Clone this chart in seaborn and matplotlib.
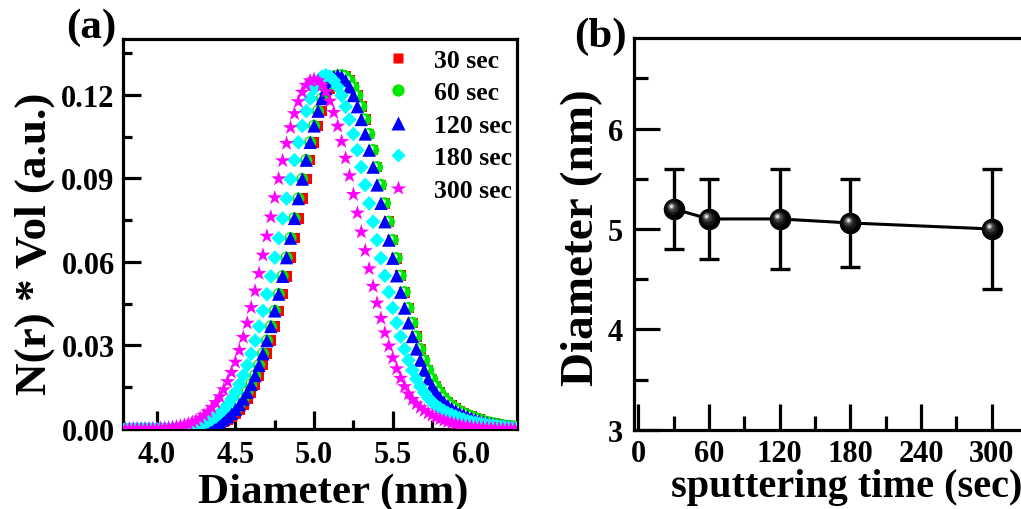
import matplotlib
matplotlib.use("Agg")
import matplotlib.pyplot as plt
import matplotlib.transforms as mtransforms
from matplotlib.ticker import MultipleLocator, FormatStrFormatter
from matplotlib.lines import Line2D
import numpy as np
import pandas as pd
import seaborn as sns

# ---------------- data: panel (a) ----------------
diameter_nm = [
    3.775, 3.8, 3.825, 3.85, 3.875, 3.9, 3.925, 3.95, 3.975, 4.0,
    4.025, 4.05, 4.075, 4.1, 4.125, 4.15, 4.175, 4.2, 4.225, 4.25,
    4.275, 4.3, 4.325, 4.35, 4.375, 4.4, 4.425, 4.45, 4.475, 4.5,
    4.525, 4.55, 4.575, 4.6, 4.625, 4.65, 4.675, 4.7, 4.725, 4.75,
    4.775, 4.8, 4.825, 4.85, 4.875, 4.9, 4.925, 4.95, 4.975, 5.0,
    5.025, 5.05, 5.075, 5.1, 5.125, 5.15, 5.175, 5.2, 5.225, 5.25,
    5.275, 5.3, 5.325, 5.35, 5.375, 5.4, 5.425, 5.45, 5.475, 5.5,
    5.525, 5.55, 5.575, 5.6, 5.625, 5.65, 5.675, 5.7, 5.725, 5.75,
    5.775, 5.8, 5.825, 5.85, 5.875, 5.9, 5.925, 5.95, 5.975, 6.0,
    6.025, 6.05, 6.075, 6.1, 6.125, 6.15, 6.175, 6.2, 6.225, 6.25,
    6.275, 6.3,
]

vol_30s = [
    0, 0, 0, 0, 0, 0, 0, 0, 0, 0,
    0, 0, 0, 0, 0, 0, 0, 0.0001, 0.0002, 0.0003,
    0.0005, 0.0007, 0.0009, 0.0012, 0.0016, 0.0021, 0.0027, 0.0035, 0.0044, 0.0056,
    0.0070, 0.0087, 0.0108, 0.0132, 0.0160, 0.0192, 0.0229, 0.0270, 0.0317, 0.0368,
    0.0424, 0.0484, 0.0548, 0.0615, 0.0685, 0.0756, 0.0827, 0.0897, 0.0965, 0.1029,
    0.1088, 0.1141, 0.1186, 0.1222, 0.1248, 0.1265, 0.1270, 0.1265, 0.1251, 0.1228,
    0.1197, 0.1157, 0.1111, 0.1059, 0.1001, 0.0940, 0.0876, 0.0810, 0.0744, 0.0678,
    0.0613, 0.0550, 0.0491, 0.0434, 0.0381, 0.0332, 0.0287, 0.0247, 0.0211, 0.0180,
    0.0153, 0.0131, 0.0112, 0.0097, 0.0084, 0.0074, 0.0065, 0.0057, 0.0051, 0.0045,
    0.0039, 0.0034, 0.0029, 0.0025, 0.0022, 0.0019, 0.0016, 0.0013, 0.0011, 0.0010,
    0.0008, 0.0007,
]

vol_60s = [
    0, 0, 0, 0, 0, 0, 0, 0, 0, 0,
    0, 0, 0, 0, 0, 0, 0.0001, 0.0002, 0.0003, 0.0005,
    0.0007, 0.0009, 0.0012, 0.0016, 0.0021, 0.0027, 0.0035, 0.0044, 0.0056, 0.0070,
    0.0087, 0.0108, 0.0132, 0.0160, 0.0192, 0.0229, 0.0270, 0.0317, 0.0368, 0.0424,
    0.0484, 0.0548, 0.0615, 0.0685, 0.0756, 0.0827, 0.0897, 0.0965, 0.1029, 0.1088,
    0.1141, 0.1186, 0.1222, 0.1248, 0.1265, 0.1268, 0.1270, 0.1265, 0.1251, 0.1228,
    0.1197, 0.1157, 0.1111, 0.1059, 0.1001, 0.0940, 0.0876, 0.0810, 0.0744, 0.0678,
    0.0613, 0.0550, 0.0491, 0.0434, 0.0381, 0.0332, 0.0287, 0.0247, 0.0211, 0.0180,
    0.0153, 0.0131, 0.0112, 0.0097, 0.0084, 0.0074, 0.0065, 0.0057, 0.0051, 0.0045,
    0.0039, 0.0034, 0.0029, 0.0025, 0.0022, 0.0019, 0.0016, 0.0013, 0.0011, 0.0010,
    0.0008, 0.0007,
]

vol_120s = [
    0, 0, 0, 0, 0, 0, 0, 0, 0, 0,
    0, 0, 0, 0, 0, 0, 0.0001, 0.0002, 0.0003, 0.0005,
    0.0007, 0.0009, 0.0012, 0.0016, 0.0021, 0.0027, 0.0035, 0.0044, 0.0056, 0.0070,
    0.0087, 0.0108, 0.0132, 0.0160, 0.0192, 0.0229, 0.0270, 0.0317, 0.0368, 0.0424,
    0.0484, 0.0548, 0.0615, 0.0685, 0.0756, 0.0827, 0.0897, 0.0965, 0.1029, 0.1088,
    0.1141, 0.1186, 0.1222, 0.1248, 0.1265, 0.1270, 0.1265, 0.1251, 0.1228, 0.1197,
    0.1157, 0.1111, 0.1059, 0.1001, 0.0940, 0.0876, 0.0810, 0.0744, 0.0678, 0.0613,
    0.0550, 0.0491, 0.0434, 0.0381, 0.0332, 0.0287, 0.0247, 0.0211, 0.0180, 0.0153,
    0.0131, 0.0112, 0.0097, 0.0084, 0.0074, 0.0065, 0.0057, 0.0051, 0.0045, 0.0039,
    0.0034, 0.0029, 0.0025, 0.0022, 0.0019, 0.0016, 0.0013, 0.0011, 0.0010, 0.0008,
    0.0007, 0.0005,
]

vol_180s = [
    0, 0, 0, 0, 0, 0, 0, 0, 0, 0,
    0, 0, 0, 0.0001, 0.0002, 0.0003, 0.0005, 0.0007, 0.0009, 0.0012,
    0.0016, 0.0021, 0.0027, 0.0035, 0.0044, 0.0056, 0.0070, 0.0087, 0.0108, 0.0132,
    0.0160, 0.0192, 0.0229, 0.0270, 0.0317, 0.0368, 0.0424, 0.0484, 0.0548, 0.0615,
    0.0685, 0.0756, 0.0827, 0.0897, 0.0965, 0.1029, 0.1088, 0.1141, 0.1186, 0.1222,
    0.1248, 0.1265, 0.1270, 0.1265, 0.1251, 0.1228, 0.1197, 0.1157, 0.1111, 0.1059,
    0.1001, 0.0940, 0.0876, 0.0810, 0.0744, 0.0678, 0.0613, 0.0550, 0.0491, 0.0434,
    0.0381, 0.0332, 0.0287, 0.0247, 0.0211, 0.0180, 0.0153, 0.0131, 0.0112, 0.0097,
    0.0084, 0.0074, 0.0065, 0.0057, 0.0051, 0.0045, 0.0039, 0.0034, 0.0029, 0.0025,
    0.0022, 0.0019, 0.0016, 0.0013, 0.0011, 0.0010, 0.0008, 0.0007, 0.0005, 0.0004,
    0.0004, 0.0003,
]

vol_300s = [
    0, 0, 0, 0, 0, 0, 0, 0, 0, 0.0001,
    0.0002, 0.0003, 0.0004, 0.0006, 0.0008, 0.0011, 0.0014, 0.0018, 0.0024, 0.0030,
    0.0039, 0.0049, 0.0062, 0.0077, 0.0095, 0.0116, 0.0141, 0.0170, 0.0203, 0.0240,
    0.0282, 0.0329, 0.0380, 0.0436, 0.0495, 0.0558, 0.0624, 0.0692, 0.0761, 0.0830,
    0.0898, 0.0963, 0.1025, 0.1082, 0.1132, 0.1175, 0.1209, 0.1234, 0.1250, 0.1255,
    0.1250, 0.1235, 0.1211, 0.1177, 0.1136, 0.1087, 0.1032, 0.0972, 0.0909, 0.0842,
    0.0775, 0.0707, 0.0640, 0.0575, 0.0512, 0.0452, 0.0397, 0.0345, 0.0298, 0.0255,
    0.0216, 0.0182, 0.0152, 0.0126, 0.0106, 0.0090, 0.0077, 0.0066, 0.0057, 0.0049,
    0.0042, 0.0036, 0.0031, 0.0026, 0.0022, 0.0018, 0.0015, 0.0012, 0.0010, 0.0008,
    0.0006, 0.0005, 0.0004, 0.0003, 0.0002, 0.0002, 0.0001, 0, 0, 0,
    0, 0,
]

series_labels = ["30 sec", "60 sec", "120 sec", "180 sec", "300 sec"]

# ---------------- data: panel (b) ----------------
sputter_time = [30, 60, 120, 180, 300]
mean_diameter = [5.2, 5.1, 5.1, 5.06, 5.0]
diameter_low = [4.8, 4.7, 4.6, 4.62, 4.4]
diameter_high = [5.6, 5.5, 5.6, 5.5, 5.6]

# ---------------- style ----------------
sns.set_style("ticks")
plt.rcParams["font.family"] = ["Liberation Serif", "DejaVu Serif"]
plt.rcParams["font.weight"] = "bold"
plt.rcParams["axes.labelweight"] = "bold"
plt.rcParams["axes.linewidth"] = 2.3
plt.rcParams["text.color"] = "black"
plt.rcParams["axes.labelcolor"] = "black"
plt.rcParams["axes.edgecolor"] = "black"
plt.rcParams["xtick.color"] = "black"
plt.rcParams["ytick.color"] = "black"
plt.rcParams["xtick.labelcolor"] = "black"
plt.rcParams["ytick.labelcolor"] = "black"

W, H = 1021, 510
fig = plt.figure(figsize=(W / 100, H / 100), dpi=100)

def fx(px):
    return px / W

def fy(py):
    return (H - py) / H

# panel (a) axes
axa = fig.add_axes([fx(123), fy(430), fx(517) - fx(123), fy(40) - fy(430)])
# panel (b) axes (extends past the right border, as in the cropped original)
axb = fig.add_axes([fx(634.3), fy(430.7), fx(1060) - fx(634.3), fy(39.3) - fy(430.7)])

# ---------------- panel (a) ----------------
df_a = pd.DataFrame({
    "diameter": diameter_nm * 5,
    "value": vol_30s + vol_60s + vol_120s + vol_180s + vol_300s,
    "series": sum([[lab] * len(diameter_nm) for lab in series_labels], []),
})

styles = {
    "30 sec": dict(marker="s", color="#FF0000", s=58),
    "60 sec": dict(marker="o", color="#00E800", s=78),
    "120 sec": dict(marker="^", color="#0000FF", s=92),
    "180 sec": dict(marker="D", color="#00FFFF", s=56),
    "300 sec": dict(marker="*", color="#FF00FF", s=130),
}

for lab in series_labels:
    sub = df_a[df_a["series"] == lab]
    st = styles[lab]
    sns.scatterplot(data=sub, x="diameter", y="value", ax=axa,
                    marker=st["marker"], color=st["color"], s=st["s"],
                    edgecolor="none", linewidth=0, legend=False, zorder=3)
    if lab == "60 sec":
        # glossy highlight on the green spheres
        off = mtransforms.ScaledTranslation(-1.3 / 72, 1.3 / 72, fig.dpi_scale_trans)
        hl = axa.scatter(sub["diameter"], sub["value"], s=14, color="#C0FFC0",
                         edgecolor="none", zorder=3)
        hl.set_offset_transform(axa.transData + off)

axa.set_xlim(3.785, 6.29)
axa.set_ylim(0, 0.14)
axa.xaxis.set_major_locator(MultipleLocator(0.5))
axa.xaxis.set_minor_locator(MultipleLocator(0.25))
axa.yaxis.set_major_locator(MultipleLocator(0.03))
axa.yaxis.set_minor_locator(MultipleLocator(0.015))
axa.xaxis.set_major_formatter(FormatStrFormatter("%.1f"))
axa.yaxis.set_major_formatter(FormatStrFormatter("%.2f"))
axa.tick_params(which="both", direction="in", top=False, right=False, width=2.3,
                labelsize=22, color="black", labelcolor="black")
axa.tick_params(which="major", length=13)
axa.tick_params(which="minor", length=6.5)
axa.tick_params(axis="x", pad=8)
axa.tick_params(axis="y", pad=6)
for lbl in axa.get_xticklabels() + axa.get_yticklabels():
    lbl.set_fontweight("bold")
for sp in axa.spines.values():
    sp.set_visible(True)
    sp.set_linewidth(2.3)
    sp.set_color("black")

axa.set_xlabel("Diameter (nm)", fontsize=31, fontweight="bold", va="baseline")
axa.xaxis.set_label_coords(fx(333.5), fy(503), transform=fig.transFigure)
axa.set_ylabel("N(r) * Vol (a.u.)", fontsize=32.5, fontweight="bold", va="baseline")
axa.yaxis.set_label_coords(fx(46), fy(244), transform=fig.transFigure)

handles = [Line2D([], [], linestyle="none", marker=styles[l]["marker"],
                  markersize=np.sqrt(styles[l]["s"]), markerfacecolor=styles[l]["color"],
                  markeredgecolor="none") for l in series_labels]
axa.legend(handles, series_labels, loc="upper left", bbox_to_anchor=(0.674, 0.975),
           frameon=False, handlelength=0.75, handletextpad=1.0,
           borderpad=0, borderaxespad=0, labelspacing=0.37,
           prop={"family": "Liberation Serif", "weight": "bold", "size": 18.5})

fig.text(fx(91.5), fy(27.5), "(a)", fontsize=31, fontweight="bold", ha="center", va="center")

# ---------------- panel (b) ----------------
df_b = pd.DataFrame({"time": sputter_time, "diameter": mean_diameter,
                     "low": diameter_low, "high": diameter_high})
sns.lineplot(data=df_b, x="time", y="diameter", ax=axb, color="black",
             linewidth=2.2, zorder=2)
yerr = [df_b["diameter"] - df_b["low"], df_b["high"] - df_b["diameter"]]
axb.errorbar(df_b["time"], df_b["diameter"], yerr=yerr, fmt="none", ecolor="black",
             elinewidth=2.4, capsize=7, capthick=2.4, zorder=3)
axb.plot(df_b["time"], df_b["diameter"], linestyle="none", marker="o",
         markersize=14.5, markerfacecolor="black", markeredgecolor="black", zorder=4)
layers = [(10.5, "#161616", 1.6), (7.0, "#3c3c3c", 2.3), (4.5, "#7a7a7a", 2.8),
          (2.6, "#c8c8c8", 3.0), (1.2, "#f4f4f4", 3.0)]
for ms, col, d in layers:
    off = mtransforms.ScaledTranslation(-d / 100 * 0.9, d / 100 * 0.9, fig.dpi_scale_trans)
    axb.plot(df_b["time"], df_b["diameter"], linestyle="none", marker="o",
             markersize=ms, markerfacecolor=col, markeredgecolor="none", zorder=5,
             transform=axb.transData + off)

x0 = -4.0 / 1.178
x1 = (1060 - 638.3) / 1.178
axb.set_xlim(x0, x1)
axb.set_ylim(3, 6.9)
axb.xaxis.set_major_locator(MultipleLocator(60))
axb.xaxis.set_minor_locator(MultipleLocator(30))
axb.yaxis.set_major_locator(MultipleLocator(1))
axb.yaxis.set_minor_locator(MultipleLocator(0.5))
axb.tick_params(which="both", direction="in", top=False, right=False, width=2.3,
                labelsize=22, color="black", labelcolor="black")
axb.tick_params(which="major", length=19)
axb.tick_params(which="minor", length=10)
axb.tick_params(axis="x", pad=7)
axb.tick_params(axis="y", pad=8)
for lbl in axb.get_xticklabels() + axb.get_yticklabels():
    lbl.set_fontweight("bold")
for sp in axb.spines.values():
    sp.set_visible(True)
    sp.set_linewidth(2.3)
    sp.set_color("black")

axb.set_xlabel("sputtering time (sec)", fontsize=29, fontweight="bold", va="baseline")
axb.xaxis.set_label_coords(fx(847), fy(497), transform=fig.transFigure)
axb.set_ylabel("Diameter (nm)", fontsize=34, fontweight="bold", va="baseline")
axb.yaxis.set_label_coords(fx(593), fy(237.5), transform=fig.transFigure)

fig.text(fx(600), fy(36.7), "(b)", fontsize=31, fontweight="bold", ha="center", va="center")

fig.savefig("out.png", dpi=100)
